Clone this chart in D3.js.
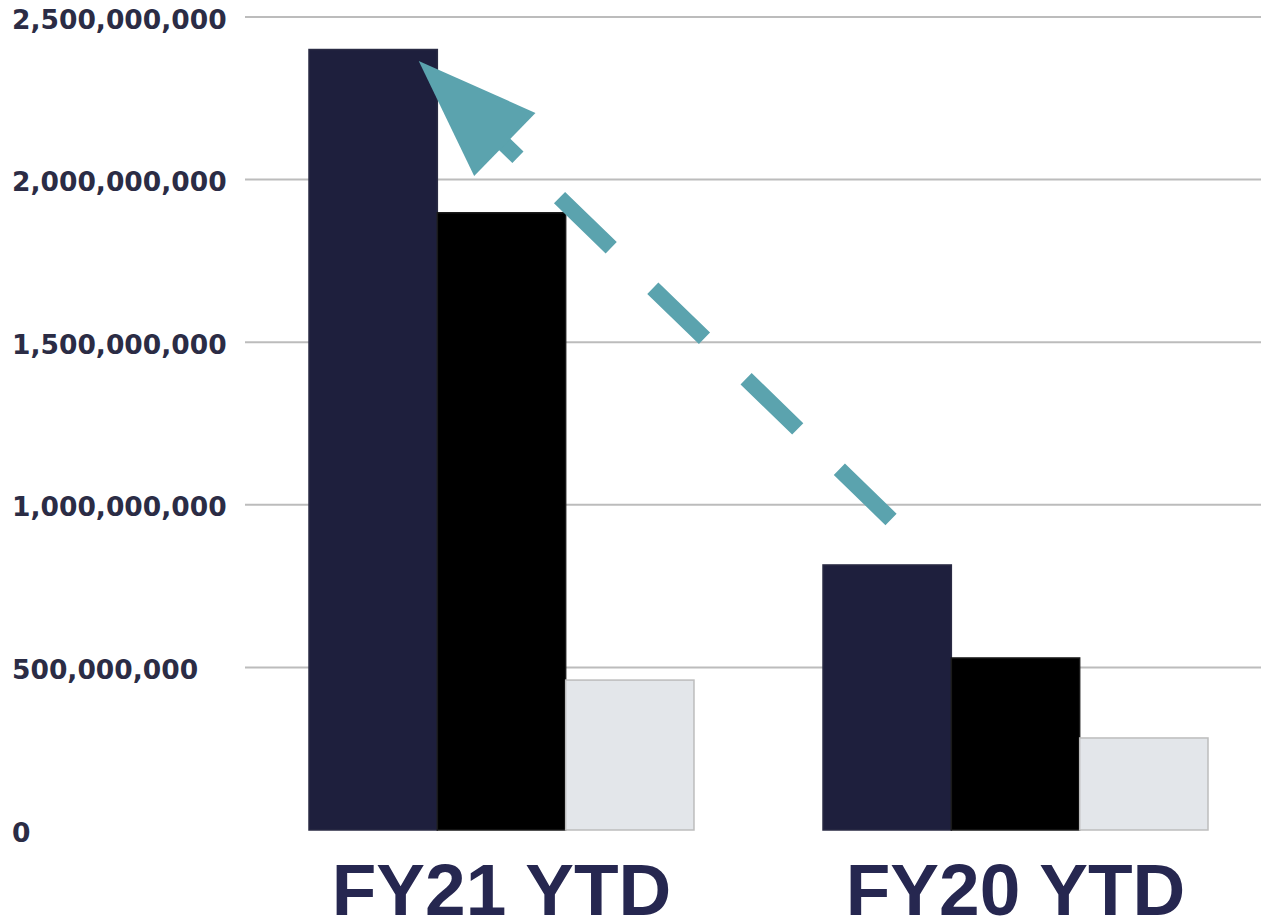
<!DOCTYPE html>
<html>
<head>
<meta charset="utf-8">
<script src="https://cdn.jsdelivr.net/npm/d3@7/dist/d3.min.js"></script>
<style>
  html, body { margin: 0; padding: 0; background: #ffffff; }
  svg { display: block; }
</style>
</head>
<body>
<svg id="chart" width="1261" height="920"></svg>
<script>
// Year-to-date totals per fiscal year, three series per year
const categories = ["FY21 YTD", "FY20 YTD"];
const seriesNames = ["s1", "s2", "s3"];
const seriesA = [2400000000, 815000000];
const seriesB = [1898000000, 529000000];
const seriesC = [461000000, 283000000];
const tickValues = [0, 500000000, 1000000000, 1500000000, 2000000000, 2500000000];

const seriesColors = ["#1e1f3d", "#000000", "#e3e6ea"];
const seriesStroke = ["#2a2b44", "#1a1a1a", "#bdbdbd"];

const rows = categories.map((c, i) => ({
  category: c,
  values: [seriesA[i], seriesB[i], seriesC[i]]
}));

const width = 1261, height = 920;
const svg = d3.select("#chart");

const y = d3.scaleLinear().domain([0, 2500000000]).range([830, 17]);
const x0 = d3.scaleBand().domain(categories)
  .range([257.6, 1259.4]).paddingInner(0.251).paddingOuter(0.1);
const x1 = d3.scaleBand().domain(seriesNames).range([0, x0.bandwidth()]).padding(0);

// horizontal gridlines (none at zero)
svg.append("g").selectAll("line")
  .data(tickValues.filter(v => v > 0))
  .join("line")
  .attr("x1", 245).attr("x2", width)
  .attr("y1", d => y(d)).attr("y2", d => y(d))
  .attr("stroke", "#bcbcbc").attr("stroke-width", 2);

// y tick labels
const fmt = d3.format(",");
svg.append("g").selectAll("text")
  .data(tickValues)
  .join("text")
  .attr("x", 12)
  .attr("y", d => y(d) + 4)
  .attr("dominant-baseline", "middle")
  .attr("font-family", "DejaVu Sans, sans-serif")
  .attr("font-weight", 700)
  .attr("font-size", 26.5)
  .attr("fill", "#2b2c45")
  .text(d => fmt(d));

// grouped bars
const groups = svg.append("g").selectAll("g")
  .data(rows)
  .join("g")
  .attr("transform", d => `translate(${x0(d.category)},0)`);

groups.selectAll("rect")
  .data(d => d.values.map((v, i) => ({ key: seriesNames[i], idx: i, value: v })))
  .join("rect")
  .attr("x", d => x1(d.key))
  .attr("y", d => y(d.value))
  .attr("width", x1.bandwidth())
  .attr("height", d => y(0) - y(d.value))
  .attr("fill", d => seriesColors[d.idx])
  .attr("stroke", d => seriesStroke[d.idx])
  .attr("stroke-width", 1.5);

// category labels
svg.append("g").selectAll("text")
  .data(categories)
  .join("text")
  .attr("x", d => x0(d) + x0.bandwidth() / 2)
  .attr("y", 915)
  .attr("text-anchor", "middle")
  .attr("font-family", "Liberation Sans, Arial, sans-serif")
  .attr("font-weight", 700)
  .attr("font-size", 73)
  .attr("fill", "#262750")
  .text(d => d);

// growth arrow: dashed shaft from the FY20 group up to the top of the FY21 bar
const arrowFrom = { category: "FY20 YTD", series: "s1", frac: 0.53, value: 955000000 };
const arrowTo = { category: "FY21 YTD", series: "s1", frac: 0.855, value: 2365000000 };
const px = a => x0(a.category) + x1(a.series) + a.frac * x1.bandwidth();
const sx = px(arrowFrom), sy = y(arrowFrom.value);
const tx = px(arrowTo), ty = y(arrowTo.value);
const ang = Math.atan2(ty - sy, tx - sx);
const headLen = 120, headHalf = 44;
const bx = tx - headLen * Math.cos(ang), by = ty - headLen * Math.sin(ang);
const nx = -Math.sin(ang), ny = Math.cos(ang);
const teal = "#5ba3ae";

svg.append("line")
  .attr("x1", sx).attr("y1", sy)
  .attr("x2", bx + 4 * Math.cos(ang)).attr("y2", by + 4 * Math.sin(ang))
  .attr("stroke", teal)
  .attr("stroke-width", 16)
  .attr("stroke-dasharray", "72 58");

svg.append("path")
  .attr("d", d3.line()([
    [tx, ty],
    [bx + headHalf * nx, by + headHalf * ny],
    [bx - headHalf * nx, by - headHalf * ny]
  ]) + "Z")
  .attr("fill", teal);
</script>
</body>
</html>
